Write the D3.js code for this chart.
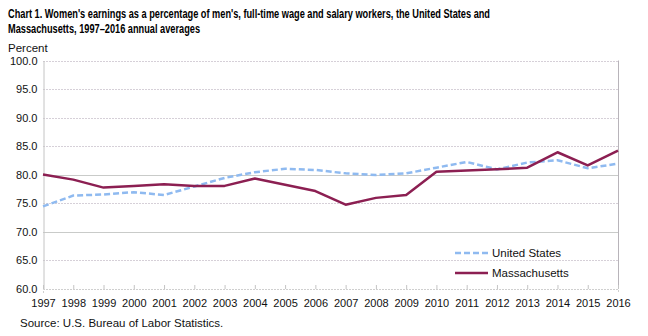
<!DOCTYPE html>
<html>
<head>
<meta charset="utf-8">
<script src="https://cdn.jsdelivr.net/npm/d3@7"></script>
<style>
  html, body { margin: 0; padding: 0; background: #fff; }
  svg { display: block; font-family: Arial, "Liberation Sans", sans-serif; }
</style>
</head>
<body>
<svg id="chart" width="648" height="336"></svg>
<script>
// Annual averages, women's earnings as a percentage of men's
const years = [1997, 1998, 1999, 2000, 2001, 2002, 2003, 2004, 2005, 2006,
               2007, 2008, 2009, 2010, 2011, 2012, 2013, 2014, 2015, 2016];
const unitedStates = [74.4, 76.3, 76.5, 76.9, 76.4, 77.9, 79.4, 80.4, 81.0, 80.8,
                      80.2, 79.9, 80.2, 81.2, 82.2, 80.9, 82.1, 82.5, 81.1, 81.9];
const massachusetts = [80.0, 79.1, 77.7, 78.0, 78.3, 78.0, 78.0, 79.3, 78.2, 77.1,
                       74.7, 75.9, 76.4, 80.5, 80.7, 80.9, 81.2, 83.9, 81.6, 84.2];
const yTicks = [60, 65, 70, 75, 80, 85, 90, 95, 100];

const svg = d3.select("#chart");
const plotLeft = 43, plotRight = 618, plotTop = 60.5, plotBottom = 288.5;

const x = d3.scalePoint().domain(years).range([plotLeft, plotRight]);
const y = d3.scaleLinear().domain([60, 100]).range([plotBottom, plotTop]);

// Title
const title = svg.append("g").attr("font-weight", "bold").attr("font-size", 12).attr("fill", "#000");
title.append("text").attr("x", 8).attr("y", 18)
  .attr("textLength", 482).attr("lengthAdjust", "spacingAndGlyphs")
  .text("Chart 1. Women's earnings as a percentage of men's, full-time wage and salary workers, the United States and");
title.append("text").attr("x", 8).attr("y", 33)
  .attr("textLength", 192).attr("lengthAdjust", "spacingAndGlyphs")
  .text("Massachusetts, 1997–2016 annual averages");

svg.append("text").attr("x", 8).attr("y", 52).attr("font-size", 11.5).attr("fill", "#111")
  .text("Percent");

// Gridlines
svg.append("g").selectAll("line").data(yTicks.filter(d => d > 60)).join("line")
  .attr("x1", plotLeft).attr("x2", plotRight)
  .attr("y1", d => Math.round(y(d)) + 0.5).attr("y2", d => Math.round(y(d)) + 0.5)
  .attr("stroke", d => (d % 10 === 0 && d < 90) ? "#c9cbc9" : "#d6d0d8")
  .attr("stroke-dasharray", d => (d % 10 === 0 && d < 90) ? null : "2,1");

// Right border
svg.append("line").attr("x1", plotRight + 0.5).attr("x2", plotRight + 0.5)
  .attr("y1", plotTop).attr("y2", plotBottom).attr("stroke", "#b8b4ba");

// Y axis
const yAxis = d3.axisLeft(y).tickValues(yTicks).tickFormat(d3.format(".1f")).tickSize(0).tickPadding(6);
const gy = svg.append("g").attr("transform", `translate(${plotLeft + 0.5},0)`).call(yAxis);
gy.select(".domain").attr("stroke", "#c4c4c4");
gy.selectAll("text").attr("font-size", 11).attr("fill", "#111").attr("font-family", "Arial, 'Liberation Sans', sans-serif");

// X axis
const xAxis = d3.axisBottom(x).tickSize(4).tickPadding(6);
const gx = svg.append("g").attr("transform", `translate(0,${plotBottom + 0.5})`).call(xAxis);
gx.select(".domain").attr("stroke", "#cfcfcf").attr("stroke-dasharray", "2,1");
gx.selectAll(".tick line").attr("stroke", "#c4c4c4").attr("transform", "translate(0,-4)");
gx.selectAll("text").attr("font-size", 11).attr("fill", "#111").attr("font-family", "Arial, 'Liberation Sans', sans-serif");

// Series
const line = d3.line().x((d, i) => x(years[i])).y(d => y(d));

svg.append("path").datum(unitedStates)
  .attr("d", line).attr("fill", "none")
  .attr("stroke", "#8fbaf0").attr("stroke-width", 2.5)
  .attr("stroke-dasharray", "6,3");

svg.append("path").datum(massachusetts)
  .attr("d", line).attr("fill", "none")
  .attr("stroke", "#8c1f52").attr("stroke-width", 2.5)
  .attr("stroke-linejoin", "round");

// Legend
const legend = svg.append("g").attr("font-size", 11.5).attr("fill", "#111");
const items = [
  { name: "United States", color: "#8fbaf0", dash: "6,3", yy: 253 },
  { name: "Massachusetts", color: "#8c1f52", dash: null, yy: 273 }
];
items.forEach(it => {
  legend.append("line").attr("x1", 455).attr("x2", 488).attr("y1", it.yy).attr("y2", it.yy)
    .attr("stroke", it.color).attr("stroke-width", 2.5).attr("stroke-dasharray", it.dash);
  legend.append("text").attr("x", 492).attr("y", it.yy + 4).text(it.name);
});

// Source
svg.append("text").attr("x", 20).attr("y", 327).attr("font-size", 11.5).attr("fill", "#111")
  .text("Source:  U.S. Bureau of Labor Statistics.");
</script>
</body>
</html>
